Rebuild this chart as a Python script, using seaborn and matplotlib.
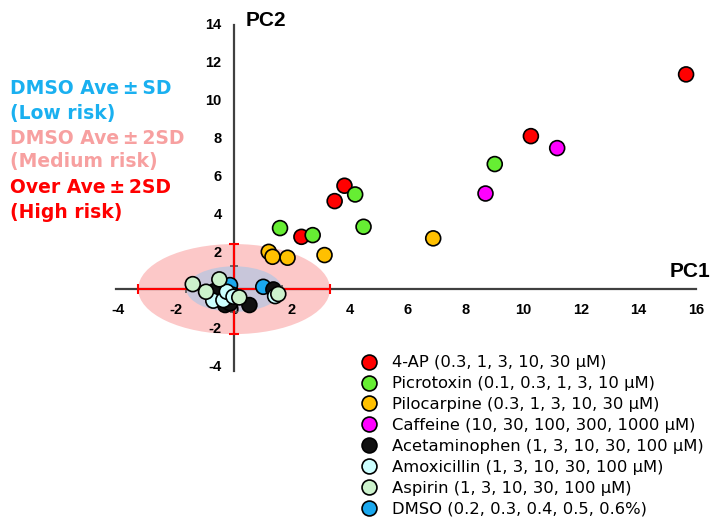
import pandas as pd
import matplotlib.pyplot as plt
import seaborn as sns
from matplotlib.patches import Ellipse

# Estilo limpio
sns.set_theme(style="white")
plt.rcParams['font.family'] = ['DejaVu Sans', 'Noto Sans CJK JP']
plt.rcParams['text.color'] = 'black'
plt.rcParams['xtick.color'] = 'black'
plt.rcParams['ytick.color'] = 'black'
plt.rcParams['axes.unicode_minus'] = False

# Compuestos (orden de la leyenda) y etiquetas
compuestos = ['4-AP', 'Picrotoxin', 'Pilocarpine', 'Caffeine',
              'Acetaminophen', 'Amoxicillin', 'Aspirin', 'DMSO']
etiquetas = ['4-AP (0.3, 1, 3, 10, 30 μM)',
             'Picrotoxin (0.1, 0.3, 1, 3, 10 μM)',
             'Pilocarpine (0.3, 1, 3, 10, 30 μM)',
             'Caffeine (10, 30, 100, 300, 1000 μM)',
             'Acetaminophen (1, 3, 10, 30, 100 μM)',
             'Amoxicillin (1, 3, 10, 30, 100 μM)',
             'Aspirin (1, 3, 10, 30, 100 μM)',
             'DMSO (0.2, 0.3, 0.4, 0.5, 0.6%)']
colores = ['#ff0000', '#66ee33', '#ffc000', '#ff00ff',
           '#111111', '#ccffff', '#ccf2cc', '#1aa8ee']

# Puntuaciones PCA
pc1_4ap = [2.33, 3.48, 3.82, 10.27, 15.64]
pc2_4ap = [2.75, 4.63, 5.44, 8.05, 11.30]
pc1_picro = [1.59, 2.72, 4.19, 4.48, 9.02]
pc2_picro = [3.21, 2.84, 4.98, 3.28, 6.58]
pc1_piloc = [1.20, 1.33, 1.85, 3.13, 6.89]
pc2_piloc = [1.96, 1.70, 1.65, 1.79, 2.67]
pc1_caff = [-0.37, -0.02, -0.25, 8.70, 11.18]
pc2_caff = [-0.55, -0.42, -0.16, 5.03, 7.42]
pc1_dmso = [-0.14, 1.01, -0.30, -0.05, -0.45]
pc2_dmso = [0.21, 0.12, -0.20, -0.30, -0.35]
pc1_acet = [-0.66, -0.31, -0.14, 0.53, 1.36]
pc2_acet = [-0.09, -0.84, -0.75, -0.84, -0.02]
pc1_amox = [-0.72, -0.37, -0.25, -0.02, 1.42]
pc2_amox = [-0.61, -0.58, -0.14, -0.40, -0.37]
pc1_asp = [-1.43, -0.51, -0.97, 0.18, 1.53]
pc2_asp = [0.26, 0.51, -0.14, -0.44, -0.26]

# DMSO media ± SD y ± 2SD (PC1, PC2)
dmso_sd = [1.65, 1.20]
dmso_2sd = [3.32, 2.37]

# Orden de dibujo (DMSO por debajo de los controles)
orden = [('4-AP', pc1_4ap, pc2_4ap), ('Picrotoxin', pc1_picro, pc2_picro),
         ('Pilocarpine', pc1_piloc, pc2_piloc), ('Caffeine', pc1_caff, pc2_caff),
         ('DMSO', pc1_dmso, pc2_dmso), ('Acetaminophen', pc1_acet, pc2_acet),
         ('Amoxicillin', pc1_amox, pc2_amox), ('Aspirin', pc1_asp, pc2_asp)]
nombre_a_etiqueta = dict(zip(compuestos, etiquetas))
filas = []
for nombre, xs, ys in orden:
    for x, y in zip(xs, ys):
        filas.append({'PC1': x, 'PC2': y, 'Compuesto': nombre_a_etiqueta[nombre]})
df = pd.DataFrame(filas)

fig = plt.figure(figsize=(7.13, 5.31), dpi=100)
ax = fig.add_axes([0.154, 0.291, 0.835, 0.687])
ax.set_axisbelow(False)

# Elipses de riesgo
ax.add_patch(Ellipse((0, 0), 2 * dmso_2sd[0], 2 * dmso_2sd[1],
                     facecolor='#fcc8c8', edgecolor='none', zorder=1))
ax.add_patch(Ellipse((0, 0), 2 * dmso_sd[0], 2 * dmso_sd[1],
                     facecolor='#c8c6da', edgecolor='none', zorder=1.1))

# Barras de error
ax.errorbar(0, 0, xerr=dmso_sd[0], yerr=dmso_sd[1], fmt='none', ecolor='#555555',
            elinewidth=1.2, capsize=3, capthick=1.2, zorder=2.6)
ax.errorbar(0, 0, xerr=dmso_2sd[0], yerr=dmso_2sd[1], fmt='none', ecolor='red',
            elinewidth=1.5, capsize=3.5, capthick=1.5, zorder=3)

sns.scatterplot(data=df, x='PC1', y='PC2', hue='Compuesto', hue_order=etiquetas,
                palette=colores, s=115, edgecolor='black', linewidth=1.2,
                zorder=5, ax=ax)

# Ejes cruzando el origen
ax.set_xlim(-4.3, 16.3)
ax.set_ylim(-4.6, 14.6)
for lado in ['top', 'right']:
    ax.spines[lado].set_visible(False)
ax.spines['left'].set_position(('data', 0))
ax.spines['bottom'].set_position(('data', 0))
ax.spines['left'].set_bounds(-4.3, 13.9)
ax.spines['bottom'].set_bounds(-4.1, 16.0)
for lado in ['left', 'bottom']:
    ax.spines[lado].set_color('#404040')
    ax.spines[lado].set_linewidth(1.6)
    ax.spines[lado].set_zorder(2.5)
ax.set_xticks(list(range(-4, 17, 2)))
ax.set_yticks([-4, -2, 2, 4, 6, 8, 10, 12, 14])
ax.tick_params(axis='x', length=0, pad=10, labelsize=10.5, labelcolor='black')
ax.tick_params(axis='y', length=0, pad=9, labelsize=10.5, labelcolor='black')
for lab in ax.get_xticklabels() + ax.get_yticklabels():
    lab.set_fontweight('bold')
    lab.set_fontfamily(['Liberation Sans', 'DejaVu Sans'])
ax.set_xlabel('')
ax.set_ylabel('')
ax.patch.set_alpha(0)

fig.text(0.345, 0.962, 'PC2', fontsize=15, fontweight='bold', ha='left', va='center',
         color='black', family=['Liberation Sans', 'DejaVu Sans'])
fig.text(0.997, 0.488, 'PC1', fontsize=15, fontweight='bold', ha='right', va='center',
         color='black', family=['Liberation Sans', 'DejaVu Sans'])

# Texto de niveles de riesgo
textos = ['DMSO Ave\u2009\u00b1\u2009SD', '(Low risk)', 'DMSO Ave\u2009\u00b1\u20092SD',
          '(Medium risk)', 'Over Ave\u2009\u00b1\u20092SD', '(High risk)']
col_txt = ['#1ab0f0', '#1ab0f0', '#f7a0a0', '#f7a0a0', '#ff0000', '#ff0000']
ys_txt = [0.834, 0.787, 0.740, 0.695, 0.646, 0.599]
for t, c, yy in zip(textos, col_txt, ys_txt):
    fig.text(0.014, yy, t, color=c, fontsize=13.5, fontweight='bold', ha='left', va='center')

sns.move_legend(ax, 'upper left', bbox_to_anchor=(0.486, 0.343),
                bbox_transform=fig.transFigure, title=None, frameon=False,
                fontsize=11.8, labelspacing=0.36, handletextpad=0.4,
                borderaxespad=0, markerscale=1.0, labelcolor='black')

plt.savefig('out.png', dpi=100)
